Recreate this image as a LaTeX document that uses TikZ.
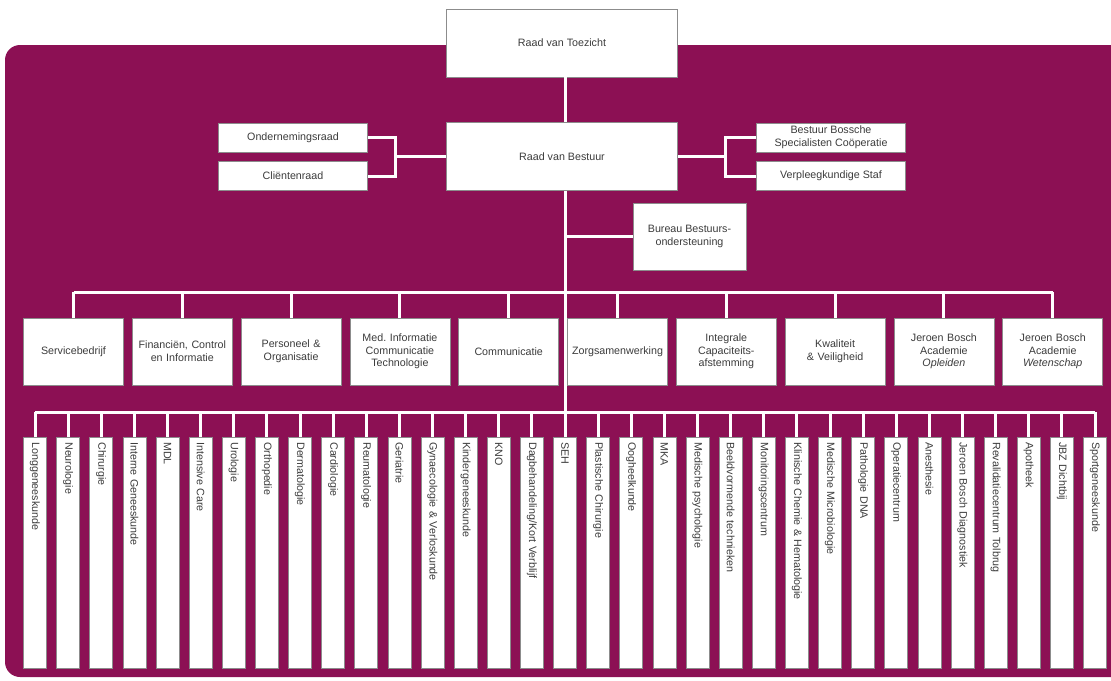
\documentclass[tikz,border=0pt]{standalone}
\usepackage{fontspec}
\setmainfont{Liberation Sans}
\definecolor{jbzpurple}{HTML}{8C1054}
\definecolor{boxtext}{HTML}{3C3C3C}

\begin{document}
\begin{tikzpicture}[x=1pt, y=-1pt,
  unit/.style={fill=white, draw=black!45, line width=0.6pt, text=boxtext,
    font=\fontsize{10.7}{12.7}\selectfont, align=center, inner sep=1pt},
  board/.style={unit, minimum width=231pt, minimum height=68pt},
  council/.style={unit, minimum width=149pt, minimum height=29pt},
  staff/.style={unit, minimum width=100pt, minimum height=67pt, text width=98pt},
  dept/.style={unit, rotate=-90, anchor=west, align=left, minimum height=23pt,
    text width=221pt, inner xsep=5pt, inner ysep=0pt},
  link/.style={draw=white, line width=3pt}]
  \useasboundingbox (0,0) rectangle (1111,680);
  \clip (0,0) rectangle (1111,680);
  % purple panel
  \fill[jbzpurple, rounded corners=15pt] (5,45) rectangle (1140,677);
  % board level
  \node[board] (rvt) at (562,43) {Raad van Toezicht};
  \node[board] (rvb) at (562,156.5) {Raad van Bestuur};
  \node[council] (or) at (293,137.5) {Ondernemingsraad};
  \node[council] (cr) at (293,176) {Cliëntenraad};
  \node[council] (bbsc) at (831,137.5) {Bestuur Bossche\\Specialisten Coöperatie};
  \node[council] (vs) at (831,176) {Verpleegkundige Staf};
  \node[unit, minimum width=113pt, minimum height=67pt] (bbo) at (689.5,236.5)
    {Bureau Bestuurs-\\ondersteuning};
  % staff row
  \node[staff] (s1) at (73.5,351.5) {Servicebedrijf};
  \node[staff] (s2) at (182.3,351.5) {Financiën, Control\\en Informatie};
  \node[staff] (s3) at (291.1,351.5) {Personeel \&\\Organisatie};
  \node[staff] (s4) at (399.9,351.5) {Med.\ Informatie\\Communicatie\\Technologie};
  \node[staff] (s5) at (508.7,351.5) {Communicatie};
  \node[staff] (s6) at (617.5,351.5) {Zorgsamenwerking};
  \node[staff] (s7) at (726.3,351.5) {Integrale\\Capaciteits-\\afstemming};
  \node[staff] (s8) at (835.1,351.5) {Kwaliteit\\\& Veiligheid};
  \node[staff] (s9) at (943.9,351.5) {Jeroen Bosch\\Academie\\\textit{Opleiden}};
  \node[staff] (s10) at (1052.7,351.5) {Jeroen Bosch\\Academie\\\textit{Wetenschap}};
  % departments
  \node[dept] (d1) at (35,437) {Longgeneeskunde};
  \node[dept] (d2) at (68.125,437) {Neurologie};
  \node[dept] (d3) at (101.25,437) {Chirurgie};
  \node[dept] (d4) at (134.375,437) {Interne Geneeskunde};
  \node[dept] (d5) at (167.5,437) {MDL};
  \node[dept] (d6) at (200.625,437) {Intensive Care};
  \node[dept] (d7) at (233.75,437) {Urologie};
  \node[dept] (d8) at (266.875,437) {Orthopedie};
  \node[dept] (d9) at (300,437) {Dermatologie};
  \node[dept] (d10) at (333.125,437) {Cardiologie};
  \node[dept] (d11) at (366.25,437) {Reumatologie};
  \node[dept] (d12) at (399.375,437) {Geriatrie};
  \node[dept] (d13) at (432.5,437) {Gynaecologie \& Verloskunde};
  \node[dept] (d14) at (465.625,437) {Kindergeneeskunde};
  \node[dept] (d15) at (498.75,437) {KNO};
  \node[dept] (d16) at (531.875,437) {Dagbehandeling/Kort Verblijf};
  \node[dept] (d17) at (565,437) {SEH};
  \node[dept] (d18) at (598.125,437) {Plastische Chirurgie};
  \node[dept] (d19) at (631.25,437) {Oogheelkunde};
  \node[dept] (d20) at (664.375,437) {MKA};
  \node[dept] (d21) at (697.5,437) {Medische psychologie};
  \node[dept] (d22) at (730.625,437) {Beeldvormende technieken};
  \node[dept] (d23) at (763.75,437) {Monitoringscentrum};
  \node[dept] (d24) at (796.875,437) {Klinische Chemie \& Hematologie};
  \node[dept] (d25) at (830,437) {Medische Microbiologie};
  \node[dept] (d26) at (863.125,437) {Pathologie DNA};
  \node[dept] (d27) at (896.25,437) {Operatiecentrum};
  \node[dept] (d28) at (929.375,437) {Anesthesie};
  \node[dept] (d29) at (962.5,437) {Jeroen Bosch Diagnostiek};
  \node[dept] (d30) at (995.625,437) {Revalidatiecentrum Tolbrug};
  \node[dept] (d31) at (1028.75,437) {Apotheek};
  \node[dept] (d32) at (1061.875,437) {JBZ Dichtbij};
  \node[dept] (d33) at (1095,437) {Sportgeneeskunde};
  % spine and side councils
  \coordinate (lj) at (395,156.5);
  \coordinate (rj) at (725,156.5);
  \coordinate (sbus) at (565,292);
  \coordinate (dbus) at (565,412);
  \draw[link] (rvt.south -| d17.west) -- (rvb.north -| d17.west);
  \draw[link] (rvb.south -| d17.west) -- (d17.west);
  \draw[link] (or.east) -| (lj) |- (cr.east);
  \draw[link] (lj) -- (rvb.west);
  \draw[link] (bbsc.west) -| (rj) |- (vs.west);
  \draw[link] (rj) -- (rvb.east);
  \draw[link] (bbo.west -| d17.west) -- (bbo.west);
  % staff bus
  \draw[link] (s1.north |- sbus) -- (s10.north |- sbus);
  \foreach \s in {s1,s2,s3,s4,s5,s6,s7,s8,s9,s10}
    \draw[link] (\s.north |- sbus) -- (\s.north);
  % department bus
  \draw[link] (d1.west |- dbus) -- (d33.west |- dbus);
  \foreach \d in {d1,d2,d3,d4,d5,d6,d7,d8,d9,d10,d11,d12,d13,d14,d15,d16,
                  d18,d19,d20,d21,d22,d23,d24,d25,d26,d27,d28,d29,d30,d31,d32,d33}
    \draw[link] (\d.west |- dbus) -- (\d.west);
\end{tikzpicture}
\end{document}
